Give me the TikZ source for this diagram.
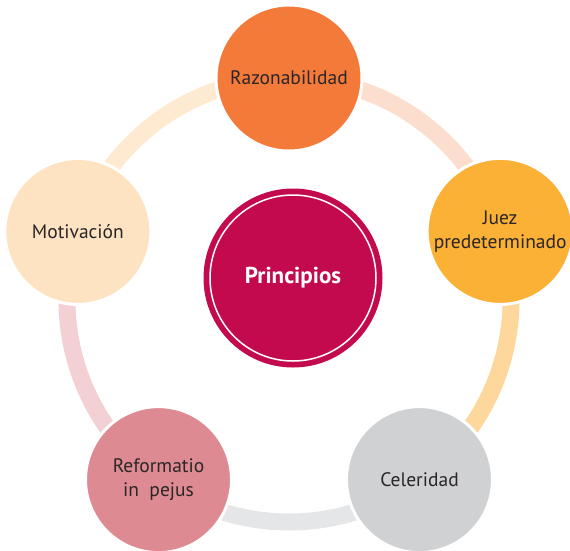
\documentclass[tikz,border=0pt]{standalone}
\usepackage{fontspec}
\setmainfont{PT Sans}
\usetikzlibrary{calc}
\usetikzlibrary{backgrounds}
\definecolor{razon}{HTML}{F47A3A}
\definecolor{juez}{HTML}{FBB036}
\definecolor{celer}{HTML}{D0D1D3}
\definecolor{reform}{HTML}{DE8A92}
\definecolor{motiv}{HTML}{FEE3C2}
\definecolor{hubred}{HTML}{C40A4E}
\definecolor{txt}{HTML}{2A2627}
\tikzstyle{principle}=[circle,minimum size=146pt,inner sep=0pt,draw=white,
                line width=3pt,text=txt,align=center,
                font=\fontsize{19.5}{24.5}\selectfont]
\tikzstyle{hub}=[circle,minimum size=179pt,inner sep=0pt,fill=hubred,
                text=white,font=\fontsize{23}{24}\selectfont\bfseries]
\tikzstyle{band}=[line width=17pt]

\begin{document}
\begin{tikzpicture}[x=1pt,y=-1pt]
\useasboundingbox (0,0) rectangle (570,550);
\clip (0,0) rectangle (570,550);
\coordinate (mid) at (289,300);

% the five principles round the ring (y grows downwards)
\node[principle,fill=razon] (razon) at ($(mid)+(-90:222)$) {Razonabilidad};
\node[principle,fill=juez] (juez) at ($(mid)+(-18:222)$) {Juez\\predeterminado};
\node[principle,fill=celer] (celer) at ($(mid)+(54:222)$) {Celeridad};
\node[principle,fill=reform] (reform) at ($(mid)+(126:222)$) {Reformatio\\in\ \ pejus};
\node[principle,fill=motiv] (motiv) at ($(mid)+(198:222)$) {Motivación};

% centre
\node[hub] (hub) at (293,278) {Principios};
\draw[white,line width=1.5pt] (hub) circle[radius=83];

% ring segments behind the circles
\begin{pgfonlayer}{background}
\draw[band,razon!25] (razon.center) arc[start angle=-90,end angle=-18,radius=222];
\draw[band,juez!50] (juez.center) arc[start angle=-18,end angle=54,radius=222];
\draw[band,celer!55] (celer.center) arc[start angle=54,end angle=126,radius=222];
\draw[band,reform!40] (reform.center) arc[start angle=126,end angle=198,radius=222];
\draw[band,motiv!75] (motiv.center) arc[start angle=198,end angle=270,radius=222];
\end{pgfonlayer}
\end{tikzpicture}
\end{document}
